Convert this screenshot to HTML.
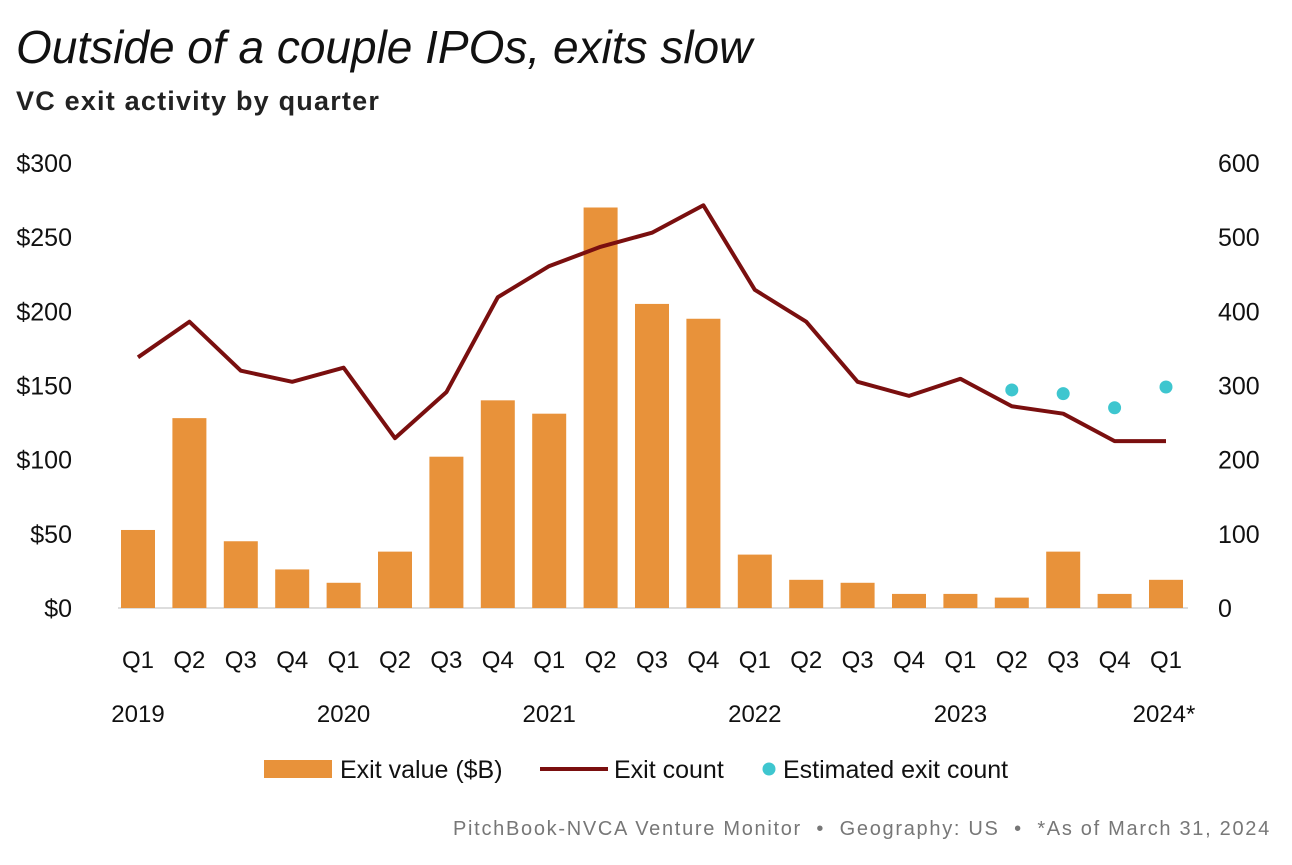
<!DOCTYPE html>
<html><head><meta charset="utf-8"><style>
body{margin:0;background:#fff;font-family:"Liberation Sans",sans-serif;}
#wrap{position:relative;width:1292px;height:865px;overflow:hidden;}
.t{position:absolute;white-space:nowrap;color:#111;}
</style></head><body>
<div id="wrap">
<div class="t" style="left:16px;top:20px;font-size:46px;font-style:italic;">Outside of a couple IPOs, exits slow</div>
<div class="t" style="left:16px;top:86px;font-size:27px;font-weight:bold;letter-spacing:1.2px;color:#222;">VC exit activity by quarter</div>
<svg id="chart" width="1292" height="865" style="position:absolute;left:0;top:0"></svg>
<div class="t" style="left:453px;top:818px;font-size:20px;letter-spacing:1.7px;color:#777;">PitchBook-NVCA Venture Monitor &nbsp;•&nbsp; Geography: US &nbsp;•&nbsp; *As of March 31, 2024</div>
</div>
<script>
const quarters=["Q1","Q2","Q3","Q4","Q1","Q2","Q3","Q4","Q1","Q2","Q3","Q4","Q1","Q2","Q3","Q4","Q1","Q2","Q3","Q4","Q1"];
const years=["2019","2020","2021","2022","2023","2024*"];
const exitValue=[52.6,128,45,26,17,38,102,140,131,270,205,195,36,19,17,9.5,9.5,7,38,9.5,19];
const exitCount=[338,386,320,305,324,229,291,419,461,487,506,543,429,386,305,286,309,272,262,225,225];
const estCount=[null,null,null,null,null,null,null,null,null,null,null,null,null,null,null,null,null,294,289,270,298];
const leftTicks=["$0","$50","$100","$150","$200","$250","$300"];
const leftVals=[0,50,100,150,200,250,300];
const rightVals=[0,100,200,300,400,500,600];

const NS="http://www.w3.org/2000/svg";
const svg=document.getElementById('chart');
const y0=608,y1=163;
const yL=v=>y0-(v/300)*(y0-y1);
const yR=v=>y0-(v/600)*(y0-y1);
const xQ=i=>138+i*51.4;
function mk(t,a){const e=document.createElementNS(NS,t);for(const k in a)e.setAttribute(k,a[k]);svg.appendChild(e);return e;}
function txt(x,y,s,anchor,size,fill){const e=mk('text',{x:x,y:y,'text-anchor':anchor,'font-size':size,fill:fill||'#111','font-family':'Liberation Sans, sans-serif'});e.textContent=s;return e;}
leftVals.forEach((v,i)=>{const e=txt(72,yL(v)+9,leftTicks[i],'end',25);

});
rightVals.forEach(v=>{const e=txt(1218,yR(v)+9,String(v),'start',25);

});
const base=mk('line',{x1:118,x2:1188,y1:y0,y2:y0,stroke:'#bbb','stroke-width':1});


exitValue.forEach((v,i)=>{const r=mk('rect',{x:xQ(i)-17,y:yL(v),width:34,height:y0-yL(v),fill:'#e8923a'});

});
quarters.forEach((q,i)=>{const e=txt(xQ(i),668,q,'middle',24);

});
years.forEach((y,i)=>{const idx=Math.min(i*4,20);const e=txt(i===5?xQ(20)-2:xQ(idx),722,y,'middle',24);

});
const pl=mk('polyline',{points:exitCount.map((v,i)=>xQ(i)+','+yR(v)).join(' '),fill:'none',stroke:'#7a0f0f','stroke-width':4,'stroke-linejoin':'round'});


estCount.forEach((v,i)=>{if(v==null)return;const c=mk('circle',{cx:xQ(i),cy:yR(v),r:6.5,fill:'#3ec6cf'});

});
const l1=mk('rect',{x:264,y:760,width:68,height:18,fill:'#e8923a'});


const lt1=txt(340,778,'Exit value ($B)','start',25);


const l2=mk('line',{x1:540,x2:608,y1:769,y2:769,stroke:'#7a0f0f','stroke-width':4});


const lt2=txt(614,778,'Exit count','start',25);


const l3=mk('circle',{cx:769,cy:769,r:6.5,fill:'#3ec6cf'});


const lt3=txt(783,778,'Estimated exit count','start',25);


</script>
</body></html>
